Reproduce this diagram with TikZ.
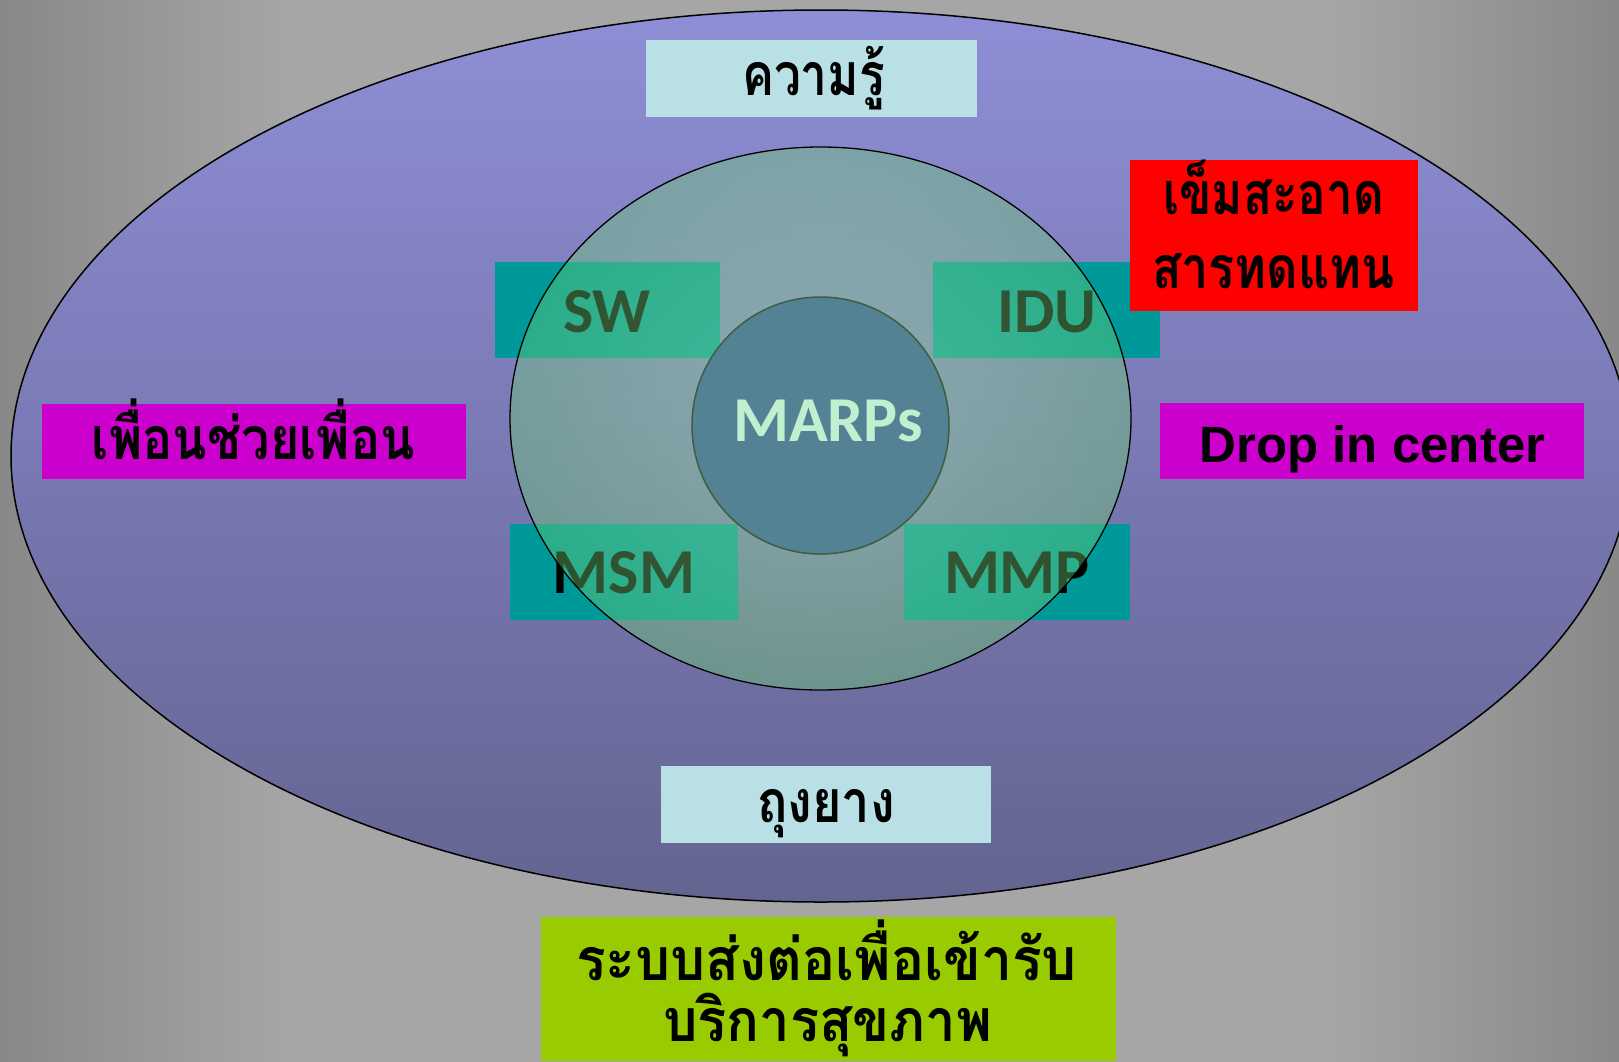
\documentclass[tikz,border=0pt]{standalone}
\usepackage{fontspec}
\usepackage{graphicx}
\newfontfamily\thaifont[Script=Thai]{Loma}
\newfontfamily\calfont{Carlito}
\newfontfamily\arialfont{Liberation Sans}
\usetikzlibrary{shapes.geometric}
\definecolor{bgedge}{RGB}{136,136,136}
\definecolor{bgmid}{RGB}{166,166,166}
\pgfdeclarehorizontalshading{bgshade}{100bp}{color(0bp)=(bgedge); color(25bp)=(bgedge); color(34bp)=(bgmid); color(66bp)=(bgmid); color(75bp)=(bgedge); color(100bp)=(bgedge)}
\definecolor{outtop}{RGB}{142,142,214}
\definecolor{outbot}{RGB}{100,100,145}
\definecolor{inin}{RGB}{170,235,170}
\definecolor{inout}{RGB}{110,205,115}
\definecolor{lcyan}{RGB}{185,224,228}
\definecolor{magbox}{RGB}{204,0,204}
\definecolor{redbox}{RGB}{255,0,0}
\definecolor{grnbox}{RGB}{153,204,0}
\definecolor{tealbox}{RGB}{0,153,153}
\definecolor{marpsfill}{RGB}{83,130,148}
\definecolor{marpsedge}{RGB}{60,95,60}
\definecolor{marpstext}{RGB}{192,240,208}
\newcommand{\thw}[2]{\resizebox{#1pt}{\height}{#2}}
\tikzset{
  flatbox/.style={rectangle, inner sep=0pt, draw=none},
  tbox/.style={flatbox, fill=tealbox, minimum height=96pt},
  thtext/.style={anchor=base, inner sep=0pt, font=\thaifont\bfseries\fontsize{59}{59}\selectfont},
  caltext/.style={anchor=base, inner sep=0pt, font=\calfont\bfseries\fontsize{64}{64}\selectfont},
}
\begin{document}
\begin{tikzpicture}[x=1pt,y=-1pt]
\useasboundingbox (0,0) rectangle (1619,1061);
\shade[shading=bgshade] (0,0) rectangle (1619,1061);
% outer ellipse
\node[ellipse, draw=black, line width=1.5pt, top color=outtop, bottom color=outbot,
      minimum width=1620pt, minimum height=892pt, inner sep=0pt] (outer) at (821,456) {};
% teal boxes and their labels
\node[tbox, minimum width=225pt] (sw) at (607.5,310) {};
\node[tbox, minimum width=227pt] (idu) at (1046.5,310) {};
\node[tbox, minimum width=228pt] (msm) at (624,572) {};
\node[tbox, minimum width=226pt] (mmp) at (1017,572) {};
\node[caltext] (swt) at (607,332) {SW};
\node[caltext] (idut) at (1047,332) {IDU};
\node[caltext] (msmt) at (624,593) {MSM};
\node[caltext] (mmpt) at (1017,593) {MMP};
% inner translucent ellipse
\node[ellipse, draw=black, line width=1.3pt, draw opacity=1, fill opacity=0.4,
      inner color=inin, outer color=inout,
      minimum width=621pt, minimum height=543pt, inner sep=0pt] (inner) at (820.5,418.5) {};
% MARPs circle
\node[circle, draw=marpsedge, line width=1.5pt, fill=marpsfill, minimum size=257pt, inner sep=0pt] (marps) at (820.5,425.5) {};
\node[caltext, text=marpstext] (marpst) at (828,441) {MARPs};
% surrounding boxes
\node[flatbox, fill=lcyan, minimum width=331pt, minimum height=77pt] (know) at (811.5,78.5) {};
\node[thtext] (knowt) at (813.5,95) {\thw{143}{ความรู้}};
\node[flatbox, fill=redbox, minimum width=288pt, minimum height=151pt] (needle) at (1274,235.5) {};
\node[thtext] (needlet1) at (1273.5,214) {\thw{221}{เข็มสะอาด}};
\node[thtext] (needlet2) at (1273.5,288) {\thw{243}{สารทดแทน}};
\node[flatbox, fill=magbox, minimum width=424pt, minimum height=76pt] (drop) at (1372,441) {};
\node[anchor=base, inner sep=0pt, font=\arialfont\bfseries\fontsize{51}{51}\selectfont] (dropt) at (1372.5,462) {Drop in center};
\node[flatbox, fill=magbox, minimum width=424pt, minimum height=75pt] (peer) at (254,441.5) {};
\node[thtext] (peert) at (253.5,459) {\thw{323}{เพื่อนช่วยเพื่อน}};
\node[flatbox, fill=lcyan, minimum width=330pt, minimum height=77pt] (condom) at (826,804.5) {};
\node[thtext] (condomt) at (826,822) {\thw{138}{ถุงยาง}};
\node[flatbox, fill=grnbox, minimum width=575pt, minimum height=144pt] (refer) at (828.5,989) {};
\node[thtext] (refert1) at (826.5,980) {\thw{501}{ระบบส่งต่อเพื่อเข้ารับ}};
\node[thtext] (refert2) at (827.5,1041) {\thw{329}{บริการสุขภาพ}};
\end{tikzpicture}
\end{document}
